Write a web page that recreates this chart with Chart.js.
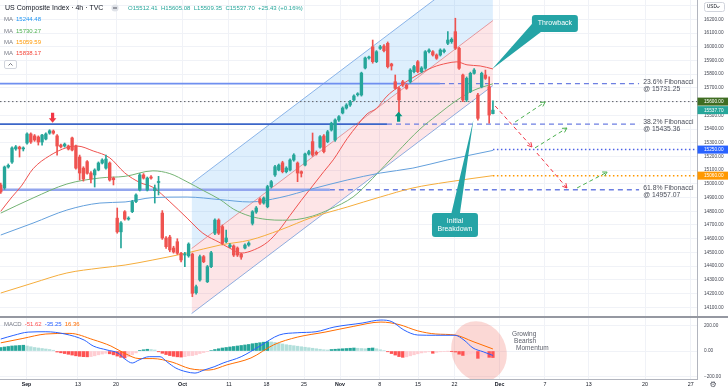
<!DOCTYPE html>
<html>
<head>
<meta charset="utf-8">
<title>US Composite Index 4h</title>
<script src="https://cdn.jsdelivr.net/npm/chart.js@4.4.0/dist/chart.umd.min.js"></script>
<style>
  html, body { margin: 0; padding: 0; background: #fff; }
  #wrap { position: relative; width: 728px; height: 391px; overflow: hidden; }
  #main { position: absolute; left: 0; top: 0; }
  #macd { position: absolute; left: 0; top: 317px; }
</style>
</head>
<body>
<div id="wrap">
  <canvas id="main" width="728" height="317"></canvas>
  <canvas id="macd" width="728" height="74"></canvas>
</div>
<script>
const FONT = "'Liberation Sans', Arial, sans-serif";
const GRID = '#f0f2f7';
const AXIS = '#b2b5be';
const UP = '#26a69a', DOWN = '#ef5350';
const TEAL = '#25a4a6';

// x axis is the 4h bar index
const X_MIN = -0.2, X_MAX = 185.32;
const dateTickIdx = [6.85, 20.56, 30.68, 48.38, 60.75, 70.73, 80.72, 90.3, 100.9, 111.06, 120.77, 132.75, 144.86, 156.5, 171.48, 183.67];
const dateTickLabels = ['Sep', '13', '20', 'Oct', '11', '18', '25', 'Nov', '8', '15', '22', 'Dec', '7', '13', '20', '27'];
const monthLabels = ['Sep', 'Oct', 'Nov', 'Dec'];

// candles
const candleOpen = [
  14992,14970,15123,15159,15255,15268,15255,15298,15364,15350,
  15342,15305,15327,15370,15385,15350,15283,15276,15276,15335,
  15276,15196,15115,15162,15079,15065,15101,15152,15115,15152,
  15042,14750,14650,14797,14743,14797,14870,14955,15065,14955,
  15050,14950,15010,14787,14605,14612,14532,14578,14494,14481,
  14475,14488,14206,14299,14469,14286,14396,14640,14736,14688,
  14578,14542,14547,14532,14488,14532,14554,14712,14795,14889,
  14860,14833,14980,15065,15101,15154,15089,15101,15174,15152,
  15089,15137,15218,15308,15230,15267,15349,15308,15393,15320,
  15466,15517,15553,15575,15612,15650,15648,15845,15918,16000,
  15891,15988,16005,16025,15874,15745,15697,15745,15721,15745,
  15818,15891,15818,15843,15964,15964,15940,15940,15964,16025,
  16037,16110,15989,15794,15612,15672,15806,15648,15709,15794,
  15709,15512.41];
const candleHigh = [
  15005,15130,15145,15270,15280,15275,15270,15372,15372,15360,
  15350,15362,15372,15395,15393,15360,15290,15298,15283,15342,
  15283,15210,15125,15170,15090,15110,15160,15183,15210,15160,
  15050,14824,14725,14805,14760,14880,14928,15075,15075,15050,
  15060,14992,15055,14805,14615,14625,14545,14600,14500,14500,
  14570,14495,14262,14480,14478,14405,14508,14745,14745,14700,
  14663,14565,14555,14540,14495,14562,14578,14805,14835,14898,
  14905,14990,15025,15135,15145,15165,15125,15183,15220,15160,
  15095,15225,15245,15371,15240,15352,15360,15390,15450,15475,
  15498,15562,15585,15610,15650,15665,15815,15925,15932,16049,
  15972,16010,16015,16035,15880,15794,15705,15755,15730,15840,
  15865,15900,15855,15972,15985,15972,15948,15985,15985,16110,
  16065,16208,15995,15800,15780,15815,15840,15660,15815,15830,
  15780,15605.08];
const candleLow = [
  14930,14960,15115,15150,15245,15196,15240,15290,15295,15310,
  15283,15283,15320,15362,15362,15210,15262,15268,15247,15240,
  15108,15028,15020,15070,15006,14977,15095,15145,15108,15020,
  14992,14640,14532,14735,14735,14790,14862,14948,15035,14948,
  15035,14860,14919,14595,14530,14505,14495,14485,14430,14396,
  14465,14177,14195,14290,14425,14280,14388,14630,14630,14555,
  14570,14535,14470,14470,14450,14525,14545,14700,14785,14850,
  14852,14825,14970,15055,15095,15080,15080,15095,15165,15016,
  15050,15130,15210,15200,15210,15260,15225,15300,15385,15310,
  15455,15510,15545,15565,15605,15640,15640,15838,15910,15880,
  15884,15980,15963,15845,15830,15690,15478,15710,15690,15735,
  15810,15810,15810,15835,15955,15932,15908,15932,15955,16015,
  16025,15980,15835,15600,15600,15665,15800,15465,15700,15762,
  15442,15509.35];
const candleClose = [
  14941,15123,15135,15262,15270,15255,15262,15364,15305,15320,
  15305,15356,15364,15387,15370,15276,15270,15290,15254,15247,
  15115,15079,15035,15077,15035,15101,15152,15174,15181,15028,
  15030,14650,14715,14743,14750,14870,14919,15065,15042,15042,
  15042,14970,15015,14605,14542,14518,14503,14494,14445,14487,
  14561,14202,14250,14469,14432,14396,14498,14736,14640,14566,
  14605,14554,14481,14481,14466,14554,14568,14797,14824,14860,
  14897,14980,15016,15125,15137,15089,15115,15174,15210,15079,
  15077,15218,15235,15210,15218,15344,15235,15380,15442,15466,
  15490,15553,15575,15600,15641,15656,15808,15918,15925,15891,
  15964,16000,15971,15855,15860,15697,15612,15721,15697,15830,
  15855,15818,15845,15964,15976,15940,15916,15976,15976,16049,
  16054,15989,15843,15612,15770,15806,15830,15478,15806,15770,
  15502,15537.70];

// moving averages: [bar index, value]
const maRed = [[0,14800],[3,14905],[5.5,14985],[8.6,15110],[13,15205],[17.6,15265],[20.3,15276],[24.6,15240],[29,15190],[33,15080],[37,15010],[40.5,14975],[45,14870],[49.6,14750],[53.8,14640],[58.4,14570],[61,14530],[64,14495],[67.5,14520],[71,14575],[74,14660],[77,14770],[80,14880],[83,14985],[86,15090],[88.5,15175],[92.2,15330],[95,15430],[97.5,15510],[100,15550],[102.8,15640],[105.5,15700],[109.7,15775],[115,15850],[118.8,15880],[121.4,15890],[124.1,15868],[127.6,15860],[131,15838]];
const maGreen = [[0,14787],[8.6,14897],[17.6,14999],[26.4,15043],[33.1,15055],[40.5,15095],[45,15075],[49.6,15015],[54,14950],[58.4,14885],[62,14815],[66.3,14765],[70.9,14740],[75,14735],[78.8,14740],[83,14765],[87.6,14815],[93.8,14905],[99,15040],[105.5,15230],[111.6,15400],[116.1,15500],[121.4,15610],[125.7,15680],[131,15730]];
const maBlue = [[0,14627],[8.6,14714],[17.6,14809],[26.4,14860],[33.1,14868],[40.5,14900],[49.6,14904],[58.4,14885],[66.3,14868],[74.3,14900],[83.1,14965],[92.2,15028],[101,15079],[109.7,15115],[118.8,15174],[131,15244]];
const maOrange = [[0,14204],[8.6,14277],[17.6,14350],[26.4,14386],[33.1,14408],[40.5,14445],[49.6,14496],[58.4,14554],[66.3,14590],[74.3,14663],[83.1,14758],[92.2,14831],[101,14904],[109.7,14970],[118.8,15013],[131,15060]];
const maLegend = [['15244.48', '#2196f3'], ['15730.27', '#4caf50'], ['15059.59', '#ff9800'], ['15838.17', '#f44336']];

// rising channel: [start, end] values at channelX
const channelX = [50.8, 131];
const channelUpper = [15003, 16666];
const channelMid = [14528, 16191];
const channelLower = [14054, 15717];

// fibonacci levels
const fibLevels = [15731.25, 15435.36, 14957.07];
const fibPct = ['23.6%', '38.2%', '61.8%'];
const fibSolidEnd = [116.9, 102.8, 87.6];
const fibDashEnd = 169.9;
const fibTextX = 171.0;

// other horizontal levels
const keyLevels = [15600, 15250, 15060];
const keyLevelFrom = [X_MIN, 131, 131];
const tagValues = [15600, 15537.70, 15250, 15060];
const tagColors = ['#3f6d22', '#26a69a', '#2962ff', '#ff9800'];

// projected path
const projRed = [[[131.6,15568],[141.4,15269]], [[142.7,15225],[150.7,14970]]];
const projGreen = [[[136.9,15451],[144.9,15597]], [[142.2,15262],[150.7,15407]], [[153.4,14970],[161.4,15086]]];

const markers = [
  { x: 13.8, y: 15446, dir: 1, color: '#f23645' },
  { x: 105.9, y: 15526, dir: -1, color: '#089981' },
];
const callouts = [
  { lines: ['Throwback'], x: 147.5, y: 16170, w: 46, h: 17, tipX: 130.8, tipY: 15838, base: [[0, 9], [9, 17]] },
  { lines: ['Initial', 'Breakdown'], x: 120.9, y: 14700, w: 46, h: 24, tipX: 125.8, tipY: 15466, base: [[19.5, 0], [28, 0]] },
];

// MACD
const macdHist = [
  28,32,36,40,42,44,46,40,34,28,
  24,20,16,12,6,-8,-14,-20,-26,-32,
  -38,-42,-45,-46,-44,-38,-30,-24,-18,-22,
  -30,-40,-50,-55,-45,-30,-15,5,10,14,
  12,8,-6,-18,-28,-36,-42,-46,-48,-45,
  -38,-36,-30,-20,-12,-5,4,12,18,24,
  28,32,36,40,44,48,52,58,62,66,
  70,74,72,68,62,56,50,46,42,38,
  34,30,26,22,18,14,10,8,12,14,
  16,18,20,22,24,22,20,18,22,24,
  18,10,4,-6,-20,-32,-44,-50,-46,-38,
  -30,-22,-15,-10,-6,-18,-10,-6,-3,-1,
  -2,-8,-25,-35,-30,-22,-16,-58,-40,-30,
  -50,-51.62];
const macdLine = [[0,95],[3.5,125],[7.3,150],[12,153],[17.1,135],[22.2,87],[24.6,40],[28.3,8],[31.2,-16],[33.1,-65],[35,-95],[36.8,-71],[39.5,-45],[42.4,-45],[44.2,-85],[46.6,-135],[49.3,-164],[51.7,-175],[54.1,-151],[56.8,-125],[59.2,-95],[64,-45],[69,40],[74.1,127],[78.9,145],[83.9,153],[88.7,190],[96.2,222],[101.2,246],[104.1,233],[107.3,167],[111,127],[115.8,125],[120.9,125],[123.3,87],[125.7,24],[128.4,-6],[131,-35.25]];
const signalLine = [[0,65],[5.9,100],[12,135],[18.4,140],[24.6,90],[29.3,40],[33.1,-20],[36.8,-60],[40.5,-60],[45.6,-88],[50.4,-140],[55.4,-151],[60.2,-110],[66.6,-55],[72.7,50],[78.9,110],[86.3,150],[93.8,195],[101.2,230],[106,210],[111,160],[115.8,135],[120.9,127],[125.7,75],[131,16.36]];
const macdTicks = [-200, 0, 200];
const macdLegend = [['-51.62', '#ff5252'], ['-35.25', '#2962ff'], ['16.36', '#ff6d00']];
const momentumNote = { x: 136.1, y: 135, lines: ['Growing', 'Bearish', 'Momentum'] };
const momentumEllipse = { x: 127.3, y: -4 };

Chart.defaults.font.family = FONT;

const seg = (pts, color, width, dash, order) => ({
  type: 'line',
  data: pts.map(([x, y]) => ({ x, y })),
  borderColor: color, borderWidth: width, borderDash: dash || [],
  pointRadius: 0, fill: false, tension: 0, order,
});
const smooth = (pts, color) => ({ ...seg(pts, color, 1, null, 40), cubicInterpolationMode: 'monotone' });

function arrowHead(ctx, p1, p2, color) {
  const ang = Math.atan2(p2[1] - p1[1], p2[0] - p1[0]);
  ctx.strokeStyle = color; ctx.lineWidth = 1; ctx.setLineDash([]);
  ctx.beginPath();
  ctx.moveTo(p2[0] - 5 * Math.cos(ang - 0.5), p2[1] - 5 * Math.sin(ang - 0.5));
  ctx.lineTo(p2[0], p2[1]);
  ctx.lineTo(p2[0] - 5 * Math.cos(ang + 0.5), p2[1] - 5 * Math.sin(ang + 0.5));
  ctx.stroke();
}

function blockArrow(ctx, cx, tipY, s, color) {
  ctx.fillStyle = color;
  ctx.beginPath();
  ctx.moveTo(cx, tipY);
  ctx.lineTo(cx - 3.8, tipY - s * 4.5);
  ctx.lineTo(cx - 1.6, tipY - s * 4.5);
  ctx.lineTo(cx - 1.6, tipY - s * 10);
  ctx.lineTo(cx + 1.6, tipY - s * 10);
  ctx.lineTo(cx + 1.6, tipY - s * 4.5);
  ctx.lineTo(cx + 3.8, tipY - s * 4.5);
  ctx.closePath();
  ctx.fill();
}

function drawCallout(ctx, px, c) {
  const [bx, by] = px(c.x, c.y);
  const [tx, ty] = px(c.tipX, c.tipY);
  const l = bx - c.w / 2, t = by - c.h / 2;
  ctx.fillStyle = TEAL;
  ctx.beginPath();
  ctx.moveTo(l + c.base[0][0], t + c.base[0][1]);
  ctx.lineTo(tx, ty);
  ctx.lineTo(l + c.base[1][0], t + c.base[1][1]);
  ctx.lineTo(l + 4, t + c.h - 4);
  ctx.closePath();
  ctx.fill();
  ctx.beginPath();
  ctx.roundRect(l, t, c.w, c.h, 3);
  ctx.fill();
  ctx.fillStyle = '#fff';
  ctx.font = `7px ${FONT}`;
  ctx.textAlign = 'center'; ctx.textBaseline = 'middle';
  const lh = 7.5;
  c.lines.forEach((s, k) => ctx.fillText(s, bx, by + (k - (c.lines.length - 1) / 2) * lh));
}

const mainOverlay = {
  id: 'mainOverlay',
  afterDatasetsDraw(chart) {
    const { ctx } = chart;
    const xs = chart.scales.x, ys = chart.scales.y;
    const px = (a, b) => [xs.getPixelForValue(a), ys.getPixelForValue(b)];
    ctx.save();
    projRed.forEach(s => arrowHead(ctx, px(...s[0]), px(...s[1]), '#f23645'));
    projGreen.forEach(s => arrowHead(ctx, px(...s[0]), px(...s[1]), '#4caf50'));
    markers.forEach(m => { const [cx, cy] = px(m.x, m.y); blockArrow(ctx, cx, cy, m.dir, m.color); });
    ctx.font = `6.8px ${FONT}`; ctx.fillStyle = '#4a4e5a';
    ctx.textAlign = 'left'; ctx.textBaseline = 'middle';
    fibLevels.forEach((lv, k) => {
      const [tx, ty] = px(fibTextX, lv);
      ctx.fillText(`${fibPct[k]} Fibonacci`, tx, ty - 1.7);
      ctx.fillText(`@ ${lv.toFixed(2)}`, tx, ty + 5.3);
    });
    callouts.forEach(c => drawCallout(ctx, px, c));
    ctx.restore();
  },
  afterDraw(chart) {
    const { ctx } = chart;
    const ys = chart.scales.y;
    ctx.save();
    // price tags on the axis
    ctx.font = `4.7px ${FONT}`; ctx.textAlign = 'left'; ctx.textBaseline = 'middle';
    tagValues.forEach((v, k) => {
      const y = ys.getPixelForValue(v);
      ctx.fillStyle = tagColors[k];
      ctx.fillRect(ys.left + 0.5, y - 4, chart.width - ys.left, 8);
      ctx.fillStyle = '#fff';
      ctx.fillText(v.toFixed(2), ys.left + 7, y + 0.3);
    });
    // currency box
    ctx.fillStyle = '#fff'; ctx.strokeStyle = '#d1d4dc'; ctx.lineWidth = 1;
    ctx.beginPath(); ctx.roundRect(704.5, 2.5, 20, 9, 2); ctx.fill(); ctx.stroke();
    ctx.fillStyle = '#131722'; ctx.font = `4.6px ${FONT}`;
    ctx.fillText('USD', 707, 7.2);
    ctx.strokeStyle = '#131722'; ctx.lineWidth = 0.7;
    ctx.beginPath(); ctx.moveTo(716.5, 6.2); ctx.lineTo(718, 7.8); ctx.lineTo(719.5, 6.2); ctx.stroke();

    // header
    ctx.font = `7px ${FONT}`; ctx.fillStyle = '#131722';
    ctx.fillText('US Composite Index · 4h · TVC', 5, 8);
    ctx.fillStyle = '#dfe2e8';
    ctx.beginPath(); ctx.arc(115, 8, 3.6, 0, Math.PI * 2); ctx.fill();
    ctx.fillStyle = '#50535e'; ctx.fillRect(113, 7.5, 4, 1);
    ctx.font = `6px ${FONT}`; ctx.fillStyle = UP;
    ctx.fillText('O15512.41  H15605.08  L15509.35  C15537.70  +25.43 (+0.16%)', 128, 8);
    maLegend.forEach(([v, c], k) => {
      const y = 19.7 + k * 11.2;
      ctx.fillStyle = '#787b86'; ctx.fillText('MA', 4, y);
      ctx.fillStyle = c; ctx.fillText(v, 16, y);
    });
    ctx.strokeStyle = '#d1d4dc'; ctx.lineWidth = 1;
    ctx.beginPath(); ctx.roundRect(4.5, 60.5, 12, 8, 1.5); ctx.stroke();
    ctx.strokeStyle = '#50535e'; ctx.lineWidth = 0.8;
    ctx.beginPath(); ctx.moveTo(8.5, 65.5); ctx.lineTo(10.5, 63.5); ctx.lineTo(12.5, 65.5); ctx.stroke();

    // pane separator
    ctx.strokeStyle = '#9598a1'; ctx.lineWidth = 1;
    ctx.beginPath(); ctx.moveTo(0, chart.height - 0.5); ctx.lineTo(chart.width, chart.height - 0.5); ctx.stroke();
    ctx.restore();
  },
};

const fibSets = [];
fibLevels.forEach((lv, k) => {
  const solidColor = ['#6f8ff0', '#3b66c9', '#93a6ee'][k];
  const solidWidth = [1.6, 1.6, 2.6][k];
  fibSets.push(seg([[X_MIN, lv], [fibSolidEnd[k], lv]], solidColor, solidWidth, null, 60));
  fibSets.push(seg([[fibSolidEnd[k], lv], [fibDashEnd, lv]], '#6d7fe2', 1.4, [5, 4], 60));
});
const levelSets = keyLevels.map((lv, k) =>
  seg([[keyLevelFrom[k], lv], [X_MAX, lv]], ['#5e6166', '#4d62e6', '#ff9800'][k], [1, 1.5, 1.5][k], [1.5, 2.5], 60));

const candleColors = candleOpen.map((o, i) => (candleClose[i] >= o ? UP : DOWN));

new Chart(document.getElementById('main'), {
  type: 'line',
  data: {
    datasets: [
      { ...seg([[channelX[0], channelUpper[0]], [channelX[1], channelUpper[1]]], '#8ab4e8', 1, null, 90), fill: '+1', backgroundColor: 'rgba(33,150,243,0.15)' },
      { ...seg([[channelX[0], channelMid[0]], [channelX[1], channelMid[1]]], '#f19999', 1, null, 90), fill: '+1', backgroundColor: 'rgba(242,54,69,0.13)' },
      seg([[channelX[0], channelLower[0]], [channelX[1], channelLower[1]]], '#8ab4e8', 1, null, 90),
      ...fibSets,
      ...levelSets,
      smooth(maOrange, '#f5ad3c'),
      smooth(maBlue, '#64a0dc'),
      smooth(maGreen, '#74b374'),
      smooth(maRed, '#ef5350'),
      {
        type: 'bar', order: 20, grouped: false,
        data: candleLow.map((l, i) => ({ x: i, y: [l, candleHigh[i]] })),
        backgroundColor: candleColors, borderWidth: 0,
        categoryPercentage: 1, barPercentage: 1, maxBarThickness: 1,
      },
      {
        type: 'bar', order: 10, grouped: false, minBarLength: 1,
        data: candleOpen.map((o, i) => ({ x: i, y: [o, candleClose[i]] })),
        backgroundColor: candleColors, borderWidth: 0,
        categoryPercentage: 1, barPercentage: 1, maxBarThickness: 2.7,
      },
      ...projRed.map(s => seg(s, '#f23645', 1, [4, 3], 5)),
      ...projGreen.map(s => seg(s, '#4caf50', 1, [4, 3], 5)),
    ],
  },
  options: {
    responsive: false, animation: false, events: [],
    layout: { padding: 0 },
    plugins: { legend: { display: false }, tooltip: { enabled: false } },
    scales: {
      x: {
        type: 'linear', min: X_MIN, max: X_MAX, offset: false,
        ticks: { display: false },
        grid: { color: GRID, drawTicks: false, offset: false },
        border: { display: false },
        afterBuildTicks: s => { s.ticks = dateTickIdx.map(v => ({ value: v })); },
        afterFit: s => { s.height = 0; s.paddingLeft = 0; s.paddingRight = 0; },
      },
      y: {
        position: 'right', min: 14029, max: 16341,
        ticks: { stepSize: 100, includeBounds: false, padding: 7, color: '#434651', font: { size: 4.7 }, callback: v => v.toFixed(2) },
        grid: { color: GRID, drawTicks: false },
        border: { color: AXIS },
        afterFit: s => { s.width = 31; s.paddingTop = 0; s.paddingBottom = 0; },
      },
    },
  },
  plugins: [mainOverlay],
});

const histColor = (v, prev) => (v >= 0 ? (v >= prev ? '#26a69a' : '#b2dfdb') : (v <= prev ? '#ff5252' : '#ffcdd2'));

const macdOverlay = {
  id: 'macdOverlay',
  beforeDatasetsDraw(chart) {
    const { ctx } = chart;
    const cx = chart.scales.x.getPixelForValue(momentumEllipse.x);
    const cy = chart.scales.y.getPixelForValue(momentumEllipse.y);
    ctx.save();
    ctx.beginPath();
    ctx.rect(chart.chartArea.left, chart.chartArea.top, chart.chartArea.width, chart.chartArea.height);
    ctx.clip();
    ctx.fillStyle = 'rgba(240,110,100,0.27)';
    ctx.beginPath();
    ctx.ellipse(cx, cy, 27, 31, -0.45, 0, Math.PI * 2);
    ctx.fill();
    ctx.restore();
  },
  afterDraw(chart) {
    const { ctx } = chart;
    ctx.save();
    ctx.textAlign = 'left'; ctx.textBaseline = 'middle';
    ctx.font = `6px ${FONT}`;
    let x = 4;
    ctx.fillStyle = '#787b86'; ctx.fillText('MACD', x, 7);
    x += ctx.measureText('MACD').width + 3;
    macdLegend.forEach(([v, c]) => {
      ctx.fillStyle = c; ctx.fillText(v, x, 7);
      x += ctx.measureText(v).width + 3;
    });
    const nx = chart.scales.x.getPixelForValue(momentumNote.x);
    const ny = chart.scales.y.getPixelForValue(momentumNote.y);
    ctx.font = `6.5px ${FONT}`; ctx.fillStyle = '#5d606b';
    momentumNote.lines.forEach((s, k) => ctx.fillText(s, nx + k * 2, ny + k * 7));
    // settings gear
    ctx.font = `8px 'DejaVu Sans', sans-serif`; ctx.fillStyle = '#50535e'; ctx.textAlign = 'center';
    ctx.fillText('⚙', 713, 68);
    ctx.strokeStyle = '#9598a1'; ctx.lineWidth = 1;
    ctx.beginPath(); ctx.moveTo(0, 0.5); ctx.lineTo(chart.width, 0.5); ctx.stroke();
    ctx.restore();
  },
};

new Chart(document.getElementById('macd'), {
  type: 'line',
  data: {
    datasets: [
      {
        type: 'bar', order: 3, grouped: false,
        data: macdHist.map((v, i) => ({ x: i, y: v })),
        backgroundColor: macdHist.map((v, i) => histColor(v, i ? macdHist[i - 1] : v)),
        borderWidth: 0, categoryPercentage: 1, barPercentage: 1, maxBarThickness: 2.7,
      },
      { ...seg(signalLine, '#ff6d00', 1, null, 2), cubicInterpolationMode: 'monotone' },
      { ...seg(macdLine, '#2962ff', 1, null, 1), cubicInterpolationMode: 'monotone' },
    ],
  },
  options: {
    responsive: false, animation: false, events: [],
    layout: { padding: 0 },
    plugins: { legend: { display: false }, tooltip: { enabled: false } },
    scales: {
      x: {
        type: 'linear', min: X_MIN, max: X_MAX, offset: false,
        afterBuildTicks: s => { s.ticks = dateTickIdx.map(v => ({ value: v })); },
        ticks: {
          autoSkip: false, maxRotation: 0, padding: 2, color: '#131722',
          font: c => ({ size: 5.3, weight: monthLabels.includes(dateTickLabels[c.index]) ? 'bold' : 'normal' }),
          callback: (v, i) => dateTickLabels[i],
        },
        grid: { color: GRID, drawTicks: false, offset: false },
        border: { color: AXIS },
        afterFit: s => { s.height = 12; s.paddingLeft = 0; s.paddingRight = 0; },
      },
      y: {
        position: 'right', min: -222, max: 270,
        afterBuildTicks: s => { s.ticks = macdTicks.map(v => ({ value: v })); },
        ticks: { padding: 7, color: '#434651', font: { size: 4.7 }, callback: v => (v < 0 ? '\u2212' : '') + Math.abs(v).toFixed(2) },
        grid: { color: GRID, drawTicks: false },
        border: { color: AXIS },
        afterFit: s => { s.width = 31; s.paddingTop = 0; s.paddingBottom = 0; },
      },
    },
  },
  plugins: [macdOverlay],
});
</script>
</body>
</html>
